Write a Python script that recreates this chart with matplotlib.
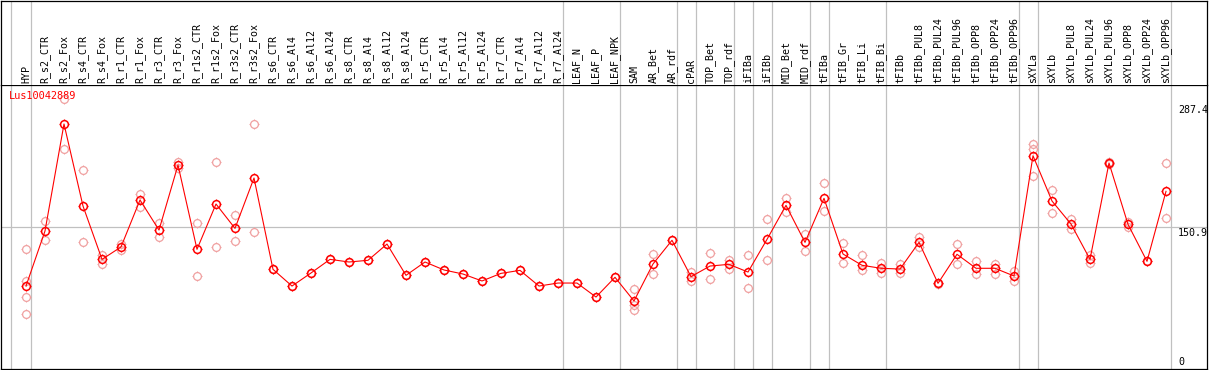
import numpy as np
import matplotlib
matplotlib.use('Agg')
import matplotlib.pyplot as plt
from matplotlib.path import Path

categories = ['HYP', 'R_s2_CTR', 'R_s2_Fox', 'R_s4_CTR', 'R_s4_Fox', 'R_r1_CTR', 'R_r1_Fox',
              'R_r3_CTR', 'R_r3_Fox', 'R_r1s2_CTR', 'R_r1s2_Fox', 'R_r3s2_CTR', 'R_r3s2_Fox',
              'R_s6_CTR', 'R_s6_Al4', 'R_s6_Al12', 'R_s6_Al24', 'R_s8_CTR', 'R_s8_Al4',
              'R_s8_Al12', 'R_s8_Al24', 'R_r5_CTR', 'R_r5_Al4', 'R_r5_Al12', 'R_r5_Al24',
              'R_r7_CTR', 'R_r7_Al4', 'R_r7_Al12', 'R_r7_Al24', 'LEAF_N', 'LEAF_P', 'LEAF_NPK',
              'SAM', 'AR_Bet', 'AR_rdf', 'cPAR', 'TOP_Bet', 'TOP_rdf', 'iFIBa', 'iFIBb',
              'MID_Bet', 'MID_rdf', 'tFIBa', 'tFIB_Gr', 'tFIB_Li', 'tFIB_Bi', 'tFIBb',
              'tFIBb_PUL8', 'tFIBb_PUL24', 'tFIBb_PUL96', 'tFIBb_OPP8', 'tFIBb_OPP24',
              'tFIBb_OPP96', 'sXYLa', 'sXYLb', 'sXYLb_PUL8', 'sXYLb_PUL24', 'sXYLb_PUL96',
              'sXYLb_OPP8', 'sXYLb_OPP24', 'sXYLb_OPP96']

# size of each tissue group (separated by grey lines)
group_sizes = [1, 28, 3, 3, 1, 2, 1, 1, 2, 1, 3, 7, 1, 7]

mean_values = [88.3, 146.9, 260.8, 173.5, 116.7, 129.9, 179.9, 147.9, 217.1, 127.4, 175.6,
               149.7, 203.3, 106.1, 88.3, 102.2, 116.7, 113.9, 115.7, 133.0, 99.7, 113.9,
               105.4, 101.1, 93.7, 101.8, 105.0, 88.3, 91.5, 91.5, 76.6, 97.6, 72.4, 111.8,
               137.0, 98.3, 109.6, 111.4, 103.2, 138.0, 174.2, 134.8, 181.7, 122.4, 110.4,
               107.2, 106.4, 134.8, 91.2, 122.1, 107.2, 107.2, 99.0, 227.0, 178.8, 154.3,
               116.7, 219.3, 154.0, 114.6, 189.1]

replicates = [
    [127.7, 94.0, 76.3, 58.5], [157.9, 137.0], [287.4, 233.8], [211.8, 134.8],
    [121.7, 111.8], [132.7, 126.7], [186.6, 172.8], [155.0, 140.5], [220.7, 214.3],
    [155.0, 99.0], [220.3, 129.9], [163.6, 136.2], [260.8, 145.5],
    [106.1], [88.3], [102.2], [116.7], [113.9], [115.7], [133.0], [99.7], [113.9],
    [105.4], [101.1], [93.7], [101.8], [105.0], [88.3], [91.5], [91.5], [76.6], [97.6],
    [84.8, 68.1, 62.8], [122.4, 100.8], [137.0], [103.6, 93.7], [123.5, 95.5],
    [115.7, 106.4], [121.3, 85.9], [159.3, 115.7], [181.7, 166.8], [143.7, 125.3],
    [197.6, 168.2], [133.8, 112.5], [121.0, 105.4], [113.2, 102.2], [111.4, 102.2],
    [140.8, 130.2], [91.2, 90.0], [133.0, 111.4], [115.0, 100.8], [112.1, 101.5],
    [104.3, 93.7], [239.8, 234.5, 205.1], [190.5, 165.7], [160.0, 149.3],
    [121.0, 112.8], [218.6, 220.0], [156.1, 151.5], [114.6], [218.9, 160.4]]

gene = 'Lus10042889'
y_max = 287.4
y_mid = 150.9

W, H = 1209, 370
fig = plt.figure(figsize=(W / 100, H / 100), dpi=100)
left, right, sep, bottom = 1, 1207, 85, 369
ax = fig.add_axes([left / W, (H - bottom) / H, (right - left) / W, (bottom - sep) / H])
hax = fig.add_axes([left / W, (H - sep) / H, (right - left) / W, (sep - 0.5) / H], sharex=ax)

x = np.arange(len(categories))
px_per_cat = 19
x0_px = 26
ax.set_xlim((left - x0_px) / px_per_cat, (right - x0_px) / px_per_cat)
ax.set_ylim(0, (bottom - sep) / (270 / y_max))
hax.set_ylim(0, 1)

for a in (ax, hax):
    a.set_xticks([])
    a.set_yticks([])
    for s in a.spines.values():
        s.set_linewidth(0.9)
        s.set_color('black')
hax.spines['bottom'].set_visible(False)

# group separators
ends = np.cumsum(group_sizes) - 1
vlines = [-0.8] + list(ends + 0.25)
for v in vlines:
    for a in (ax, hax):
        a.axvline(v, color='#c0c0c0', lw=0.9, zorder=0)
ax.axhline(y_mid, color='#c0c0c0', lw=0.9, zorder=0)

# four small ticks around each circle
r = 0.72
ticks = Path([(0, r), (0, 1), (0, -r), (0, -1), (r, 0), (1, 0), (-r, 0), (-1, 0)],
             [Path.MOVETO, Path.LINETO] * 4)

rx = [i for i, reps in enumerate(replicates) for _ in reps]
ry = [v for reps in replicates for v in reps]
pale = '#f0a0a0'
ax.plot(rx, ry, linestyle='none', marker='o', markersize=5.6, markerfacecolor='none',
        markeredgecolor=pale, markeredgewidth=0.9, zorder=2)
ax.plot(rx, ry, linestyle='none', marker=ticks, markersize=7.8,
        markeredgecolor=pale, markeredgewidth=0.8, zorder=2)
ax.plot(x, mean_values, color='red', lw=0.8, marker='o', markersize=5.6,
        markerfacecolor='none', markeredgecolor='red', markeredgewidth=1.1, zorder=3)
ax.plot(x, mean_values, linestyle='none', marker=ticks, markersize=7.8,
        markeredgecolor='red', markeredgewidth=0.9, zorder=3)

mono = 'DejaVu Sans Mono'
for i, name in enumerate(categories):
    hax.annotate(name, xy=(i, 0), xytext=(0, 1.3), textcoords='offset points',
                 rotation=90, ha='center', va='bottom', fontsize=7.2, family=mono)

ax.annotate(gene, xy=(0, 1), xycoords='axes fraction', xytext=(5.7, -4.2),
            textcoords='offset points', ha='left', va='top', fontsize=7.4,
            family=mono, color='red')

lab_x = (1178 - x0_px) / px_per_cat
ax.annotate(f'{y_max}', xy=(lab_x, y_max), xytext=(0, -4.5), textcoords='offset points',
            ha='left', va='top', fontsize=7.2, family=mono)
ax.annotate(f'{y_mid}', xy=(lab_x, y_mid), xytext=(0, -0.5), textcoords='offset points',
            ha='left', va='top', fontsize=7.2, family=mono)
ax.annotate('0', xy=(lab_x, 0), xytext=(0, 1.5), textcoords='offset points',
            ha='left', va='bottom', fontsize=7.2, family=mono)

fig.savefig('out.png', dpi=100)
